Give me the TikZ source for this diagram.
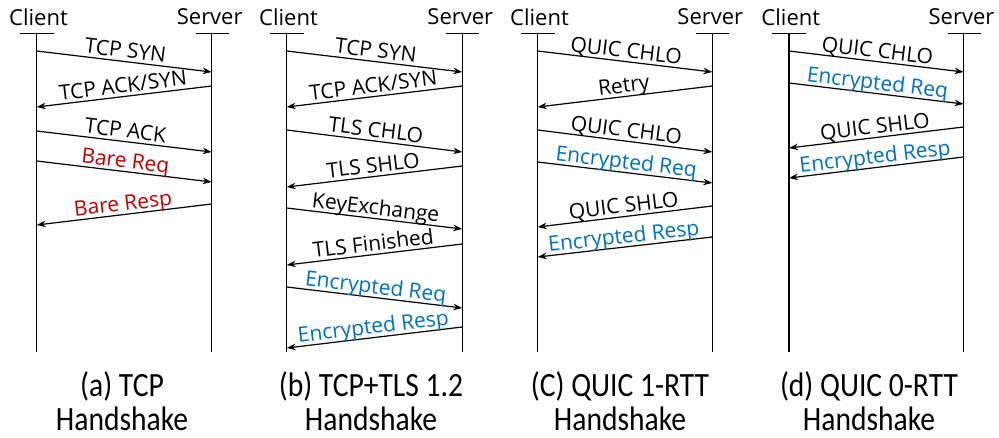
\documentclass[tikz,border=0pt]{standalone}
\usepackage{fontspec}
\setmainfont{Open Sans}
\newfontfamily\capfont[FakeStretch=0.87]{Carlito}
\usetikzlibrary{arrows.meta,calc}
\definecolor{reqred}{HTML}{C00000}
\definecolor{encblue}{HTML}{0070C0}
\tikzset{
  lifeline/.style={line width=1.3pt},
  headbar/.style={line width=1.3pt},
  head/.style={font=\fontsize{22}{26}\selectfont, inner sep=0pt},
  msgline/.style={line width=1.2pt, -{Stealth[length=9pt,width=6.5pt]}},
  msglabel/.style={sloped, above, inner sep=1pt, text depth=0.22em,
    font=\fontsize{21}{25}\selectfont},
  caption/.style={font=\capfont\fontsize{34}{34}\selectfont, align=center,
    inner sep=0pt, anchor=base},
}
% client -> server: name, panel, y at client, y at server, colour, text
\newcommand\msgcs[6]{%
  \coordinate (#1s) at ($(ct#2)+(0,#3-33.5)$);
  \coordinate (#1e) at ($(st#2)+(0,#4-33.5)$);
  \draw[msgline] (#1s) -- node[msglabel,text=#5]{#6} (#1e);}
% server -> client: name, panel, y at server, y at client, colour, text
\newcommand\msgsc[6]{%
  \coordinate (#1s) at ($(st#2)+(0,#3-33.5)$);
  \coordinate (#1e) at ($(ct#2)+(0,#4-33.5)$);
  \draw[msgline] (#1s) -- node[msglabel,text=#5]{#6} (#1e);}
\begin{document}
\begin{tikzpicture}[x=1pt,y=-1pt]
\useasboundingbox (0,0) rectangle (999,438);

% lifelines with their header labels
\foreach \p/\cx/\sx in {a/36.7/211.7, b/286.7/462.3, c/537.7/712.3, d/789/963.5} {
  \node[head] (cl\p) at (\cx+1.8,17) {Client};
  \node[head] (sl\p) at (\sx-2,17) {Server};
  \coordinate (ct\p) at (\cx,33.5);
  \coordinate (cb\p) at (\cx,352);
  \coordinate (st\p) at (\sx,33.5);
  \coordinate (sb\p) at (\sx,352);
  \draw[headbar] ([xshift=-17pt]ct\p) -- ([xshift=17pt]ct\p);
  \draw[headbar] ([xshift=-16pt]st\p) -- ([xshift=17pt]st\p);
  \draw[lifeline] (ct\p) -- (cb\p);
  \draw[lifeline] (st\p) -- (sb\p);
}

% (a) TCP
\msgcs{a1}{a}{51}{72}{black}{TCP SYN}
\msgsc{a2}{a}{86}{107}{black}{TCP ACK/SYN}
\msgcs{a3}{a}{131}{152}{black}{TCP ACK}
\msgcs{a4}{a}{161}{182}{reqred}{Bare Req}
\msgsc{a5}{a}{204}{225}{reqred}{Bare Resp}

% (b) TCP + TLS 1.2
\msgcs{b1}{b}{51}{72}{black}{TCP SYN}
\msgsc{b2}{b}{86}{107}{black}{TCP ACK/SYN}
\msgcs{b3}{b}{130}{152}{black}{TLS CHLO}
\msgsc{b4}{b}{166}{187}{black}{TLS SHLO}
\msgcs{b5}{b}{208}{229}{black}{KeyExchange}
\msgsc{b6}{b}{244}{265}{black}{TLS Finished}
\msgcs{b7}{b}{287}{308}{encblue}{Encrypted Req}
\msgsc{b8}{b}{327}{348}{encblue}{Encrypted Resp}

% (c) QUIC 1-RTT
\msgcs{c1}{c}{51}{72}{black}{QUIC CHLO}
\msgsc{c2}{c}{86}{107}{black}{Retry}
\msgcs{c3}{c}{130}{152}{black}{QUIC CHLO}
\msgcs{c4}{c}{162}{183}{encblue}{Encrypted Req}
\msgsc{c5}{c}{206}{227}{black}{QUIC SHLO}
\msgsc{c6}{c}{237}{257}{encblue}{Encrypted Resp}

% (d) QUIC 0-RTT
\msgcs{d1}{d}{51}{72}{black}{QUIC CHLO}
\msgcs{d2}{d}{83}{104}{encblue}{Encrypted Req}
\msgsc{d3}{d}{127}{148}{black}{QUIC SHLO}
\msgsc{d4}{d}{157}{178}{encblue}{Encrypted Resp}

% captions (base anchor sits on the second line)
\node[caption] (capa) at (122,430) {(a) TCP\\Handshake};
\node[caption] (capb) at (371,430) {(b) TCP+TLS 1.2\\Handshake};
\node[caption] (capc) at (620,430) {(C) QUIC 1-RTT\\Handshake};
\node[caption] (capd) at (869,430) {(d) QUIC 0-RTT\\Handshake};
\end{tikzpicture}
\end{document}
